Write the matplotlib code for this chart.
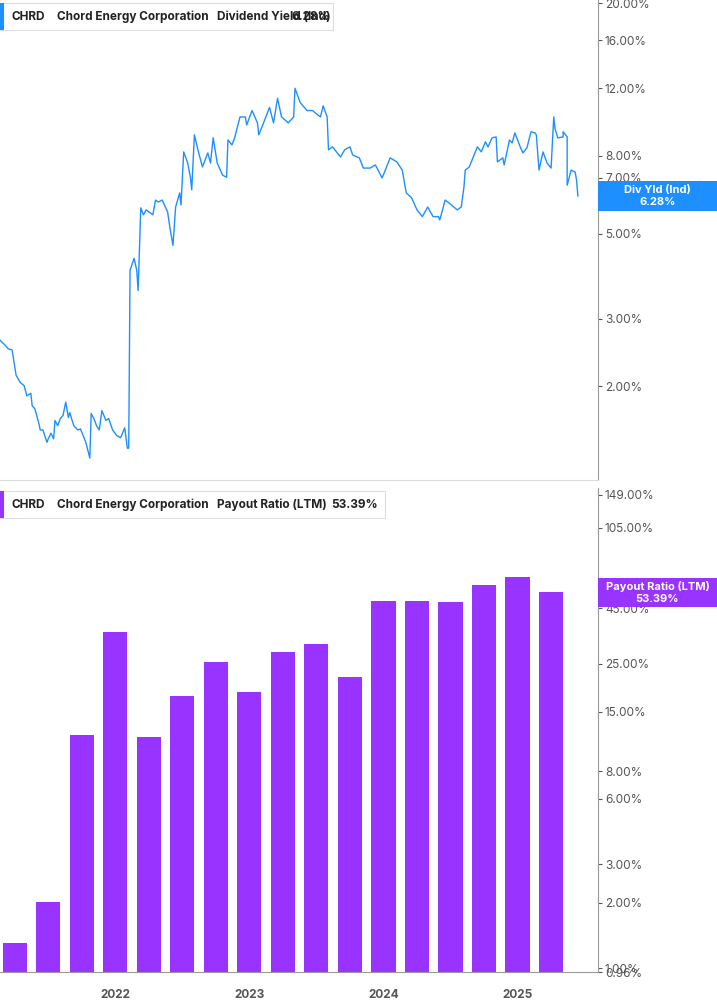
import matplotlib
matplotlib.use("Agg")
import matplotlib.pyplot as plt
from matplotlib.patches import Rectangle
from matplotlib.ticker import FixedLocator, NullLocator

# ---- data ----
yield_dates = [2021.14,2021.18,2021.20,2021.23,2021.26,2021.29,2021.32,2021.34,2021.37,2021.38,2021.40,2021.43,2021.44,2021.46,2021.49,2021.50,2021.52,2021.54,2021.55,2021.57,2021.59,2021.61,2021.63,2021.65,2021.66,2021.69,2021.72,2021.74,2021.76,2021.78,2021.81,2021.82,2021.84,2021.86,2021.88,2021.90,2021.93,2021.95,2021.98,2022.01,2022.04,2022.07,2022.09,2022.10,2022.11,2022.13,2022.14,2022.16,2022.17,2022.19,2022.21,2022.23,2022.25,2022.28,2022.30,2022.32,2022.35,2022.39,2022.41,2022.43,2022.45,2022.48,2022.49,2022.51,2022.54,2022.56,2022.57,2022.59,2022.62,2022.65,2022.69,2022.71,2022.73,2022.76,2022.80,2022.83,2022.84,2022.87,2022.89,2022.93,2022.97,2022.98,2023.02,2023.06,2023.07,2023.10,2023.15,2023.18,2023.21,2023.24,2023.29,2023.33,2023.34,2023.38,2023.43,2023.47,2023.53,2023.55,2023.58,2023.59,2023.62,2023.68,2023.71,2023.75,2023.77,2023.82,2023.85,2023.90,2023.94,2023.99,2024.05,2024.10,2024.14,2024.17,2024.21,2024.25,2024.29,2024.33,2024.37,2024.41,2024.42,2024.46,2024.49,2024.55,2024.58,2024.60,2024.61,2024.64,2024.70,2024.73,2024.76,2024.78,2024.81,2024.84,2024.85,2024.89,2024.90,2024.94,2024.96,2024.98,2025.02,2025.04,2025.07,2025.10,2025.13,2025.14,2025.16,2025.19,2025.22,2025.25,2025.27,2025.28,2025.30,2025.34,2025.34,2025.37,2025.37,2025.40,2025.43,2025.44,2025.45]
yield_values = [2.64,2.56,2.51,2.49,2.14,2.05,2.01,1.89,1.92,1.78,1.75,1.60,1.54,1.54,1.43,1.46,1.51,1.46,1.63,1.58,1.65,1.68,1.82,1.66,1.71,1.58,1.54,1.55,1.49,1.43,1.30,1.70,1.65,1.58,1.54,1.73,1.63,1.65,1.54,1.49,1.47,1.56,1.38,1.38,4.02,4.22,4.32,4.02,3.56,5.85,5.61,5.78,5.71,5.61,6.13,6.06,6.13,5.71,5.12,4.67,5.88,6.40,5.95,8.19,7.66,7.03,6.52,9.07,8.19,7.48,8.14,7.66,8.91,7.66,7.12,7.03,8.80,8.54,8.91,10.1,10.1,9.63,10.5,9.75,9.07,9.63,10.7,9.75,11.3,10.1,9.75,10.1,12.0,11.0,10.5,10.5,10.1,10.8,10.1,8.29,8.44,7.94,8.29,8.44,8.04,7.90,7.43,7.43,7.57,7.00,7.90,7.71,7.34,6.40,6.21,5.78,5.55,5.88,5.55,5.55,5.44,6.13,6.02,5.78,5.88,6.62,7.34,7.48,8.44,8.19,8.70,8.44,8.91,8.96,7.71,7.90,7.57,8.80,8.64,9.18,8.44,8.14,8.39,9.24,9.18,9.07,7.34,8.19,7.66,7.43,10.1,9.40,8.91,8.96,9.24,8.96,6.70,7.34,7.25,6.91,6.28]

payout_dates = [2021.25,2021.50,2021.75,2022.00,2022.25,2022.50,2022.75,2023.00,2023.25,2023.50,2023.75,2024.00,2024.25,2024.50,2024.75,2025.00,2025.25]
payout_values = [1.30,2.02,11.7,35.0,11.5,17.7,25.3,18.6,28.4,30.6,21.8,48.5,48.5,47.9,57.5,62.5,53.39]

top_ticks = [2, 3, 5, 7, 8, 12, 16, 20]
bot_ticks = [0.96, 1, 2, 3, 6, 8, 15, 25, 45, 105, 149]
year_ticks = [2022, 2023, 2024, 2025]

BLUE = "#1E8FFF"
PURPLE = "#9933FF"
GRAY = "#555555"
W, H = 717, 1005
plt.rcParams["font.family"] = "Inter"

fig = plt.figure(figsize=(W/100, H/100), dpi=100)
xl = (2021.14, 2025.60)

def ax_rect(x0, y0, x1, y1):
    return [x0/W, 1-y1/H, (x1-x0)/W, (y1-y0)/H]

ax1 = fig.add_axes(ax_rect(0, 0, 598, 480))
ax1.plot(yield_dates, yield_values, color=BLUE, lw=1.0)
ax1.set_yscale("log")
ax1.set_ylim(1.14, 20.4)
ax1.set_xlim(*xl)

ax2 = fig.add_axes(ax_rect(0, 488, 598, 972))
ax2.bar(payout_dates, [v-0.96 for v in payout_values], bottom=0.96, width=0.18, color=PURPLE)
ax2.set_yscale("log")
ax2.set_ylim(0.96, 160)
ax2.set_xlim(*xl)

for ax, ticks in ((ax1, top_ticks), (ax2, bot_ticks)):
    ax.yaxis.tick_right()
    ax.yaxis.set_major_locator(FixedLocator(ticks))
    ax.yaxis.set_minor_locator(NullLocator())
    ax.set_yticklabels([f"{t:.2f}%" for t in ticks])
    ax.tick_params(axis="y", length=3, width=0.8, color=GRAY, labelcolor=GRAY, labelsize=8.5, pad=2)
    for s in ("top", "left"):
        ax.spines[s].set_visible(False)
    ax.spines["right"].set_color("#999999")
    ax.spines["bottom"].set_color("#999999")

ax1.spines["bottom"].set_color("#dddddd")
ax1.set_xticks([])
ax2.set_xticks(year_ticks)
ax2.set_xticklabels([str(y) for y in year_ticks])
ax2.tick_params(axis="x", length=0, labelsize=8.5, labelcolor=GRAY, pad=12)
for lab in ax2.get_xticklabels():
    lab.set_fontweight("bold")

def fx(x): return x/W
def fy(y): return 1-y/H

def legend(y0, y1, x1, color, parts):
    fig.patches.append(Rectangle((fx(0), fy(y1)), fx(x1), (y1-y0)/H, transform=fig.transFigure,
                                 facecolor="white", edgecolor="#dddddd", lw=0.8))
    fig.patches.append(Rectangle((fx(0), fy(y1)), fx(4), (y1-y0)/H, transform=fig.transFigure,
                                 facecolor=color, edgecolor="none"))
    for x, t in parts:
        fig.text(fx(x), fy((y0+y1)/2), t, fontsize=8.5, fontweight="bold", color="#222222",
                 va="center", ha="left")

legend(3, 30, 333, BLUE, [(12, "CHRD"), (57, "Chord Energy Corporation"),
                          (217, "Dividend Yield (Ind)"), (292, "6.28%")])
legend(491, 518, 385, PURPLE, [(12, "CHRD"), (57, "Chord Energy Corporation"),
                               (217, "Payout Ratio (LTM)"), (331, "53.39%")])

def vlabel(y0, y1, color, l1, l2):
    fig.patches.append(Rectangle((fx(598), fy(y1)), fx(W-598), (y1-y0)/H, transform=fig.transFigure,
                                 facecolor=color, edgecolor="none", zorder=5))
    cx = fx((598+W)/2)
    fig.text(cx, fy(y0+9), l1, color="white", fontsize=8, fontweight="bold", ha="center", va="center", zorder=6)
    fig.text(cx, fy(y0+21), l2, color="white", fontsize=8, fontweight="bold", ha="center", va="center", zorder=6)

vlabel(181, 211, BLUE, "Div Yld (Ind)", "6.28%")
vlabel(578, 607, PURPLE, "Payout Ratio (LTM)", "53.39%")

fig.savefig("out.png", dpi=100)
